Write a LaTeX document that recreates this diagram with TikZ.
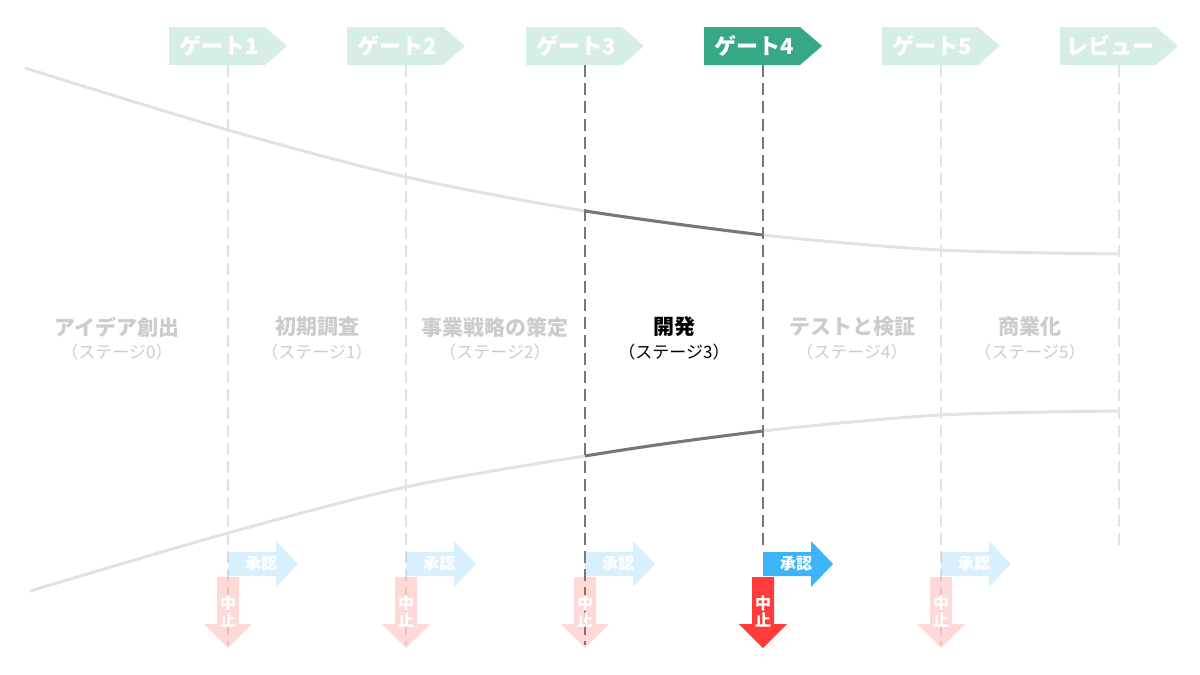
\documentclass[tikz,border=0pt]{standalone}
\usepackage{fontspec}
\setmainfont{Noto Sans CJK JP}
\definecolor{gatedark}{HTML}{36A887}
\definecolor{okc}{HTML}{3BB4F8}
\definecolor{stopc}{HTML}{FF3B3B}
\definecolor{lineg}{HTML}{E2E2E2}
\definecolor{darkg}{HTML}{777777}
\definecolor{txtg}{HTML}{CCCCCC}
\begin{document}
\begin{tikzpicture}[x=1pt,y=-1pt,
  gtxt/.style={text=white,font=\bfseries\fontsize{22}{22}\selectfont,anchor=center},
  vline/.style={dashed,dash pattern=on 12pt off 6pt,line width=2.5pt},
  stitle/.style={font=\bfseries\fontsize{21}{24}\selectfont,anchor=center},
  ssub/.style={font=\fontsize{17}{19}\selectfont,anchor=center}]
\path[use as bounding box] (0,0) rectangle (1200,675);
% curves
\draw[lineg,line width=3pt] plot[smooth] coordinates {(25,68)(228,130)(406,177)(585,211)(763,235)(941,250)(1119,254)};
\draw[lineg,line width=3pt] plot[smooth] coordinates {(30,591)(228,533)(406,487)(585,456)(763,431)(941,415)(1119,411)};
\draw[darkg,line width=3pt] (585,211) .. controls (645,220) and (705,228) .. (763,235);
\draw[darkg,line width=3pt] (585,456) .. controls (645,446) and (705,438) .. (763,431);
% vertical lines
\foreach \x in {228,406,941} \draw[vline,lineg] (\x,65) -- (\x,645);
\draw[vline,lineg] (1119,65) -- (1119,548);
\draw[vline,darkg] (585,65) -- (585,645);
\draw[vline,darkg] (763,65) -- (763,548);
% gate tags
\foreach \x/\t/\op in {228/ゲート1/0.2,406/ゲート2/0.2,585/ゲート3/0.2,763/ゲート4/1,941/ゲート5/0.2,1119/レビュー/0.2}{
  \fill[gatedark,fill opacity=\op] (\x-59,27) -- (\x+37,27) -- (\x+59,46) -- (\x+37,65) -- (\x-59,65) -- cycle;
  \node[gtxt] (g\x) at (\x-9,46) {\t};
}
% approve and stop arrows
\foreach \x/\op in {228/0.2,406/0.2,585/0.2,763/1,941/0.2}{
  \fill[okc,fill opacity=\op] (\x,552) -- (\x+48,552) -- (\x+48,541) -- (\x+70,564) -- (\x+48,587) -- (\x+48,576) -- (\x,576) -- cycle;
  \node[text=white,font=\bfseries\fontsize{16}{16}\selectfont] (a\x) at (\x+33,564) {承認};
}
\foreach \x/\op in {228/0.2,406/0.2,585/0.2,941/0.2,763/1}{
  \fill[stopc,fill opacity=\op] (\x-11,577) -- (\x+11,577) -- (\x+11,624) -- (\x+24,624) -- (\x,648) -- (\x-24,624) -- (\x-11,624) -- cycle;
  \node[text=white,font=\bfseries\fontsize{16}{17}\selectfont,align=center,inner sep=0] (s\x) at (\x,612) {中\\止};
}
% stage labels
\foreach \x/\t/\n in {117/アイデア創出/0,317/初期調査/1,495/事業戦略の策定/2,852/テストと検証/4,1030/商業化/5}{
  \node[stitle,text=txtg] (t\n) at (\x,327) {\t};
  \node[ssub,text=txtg] (u\n) at (\x,352) {（ステージ\n）};
}
\node[stitle,text=black] (t3) at (674,327) {開発};
\node[ssub,text=black] (u3) at (674,352) {（ステージ3）};
\end{tikzpicture}
\end{document}
